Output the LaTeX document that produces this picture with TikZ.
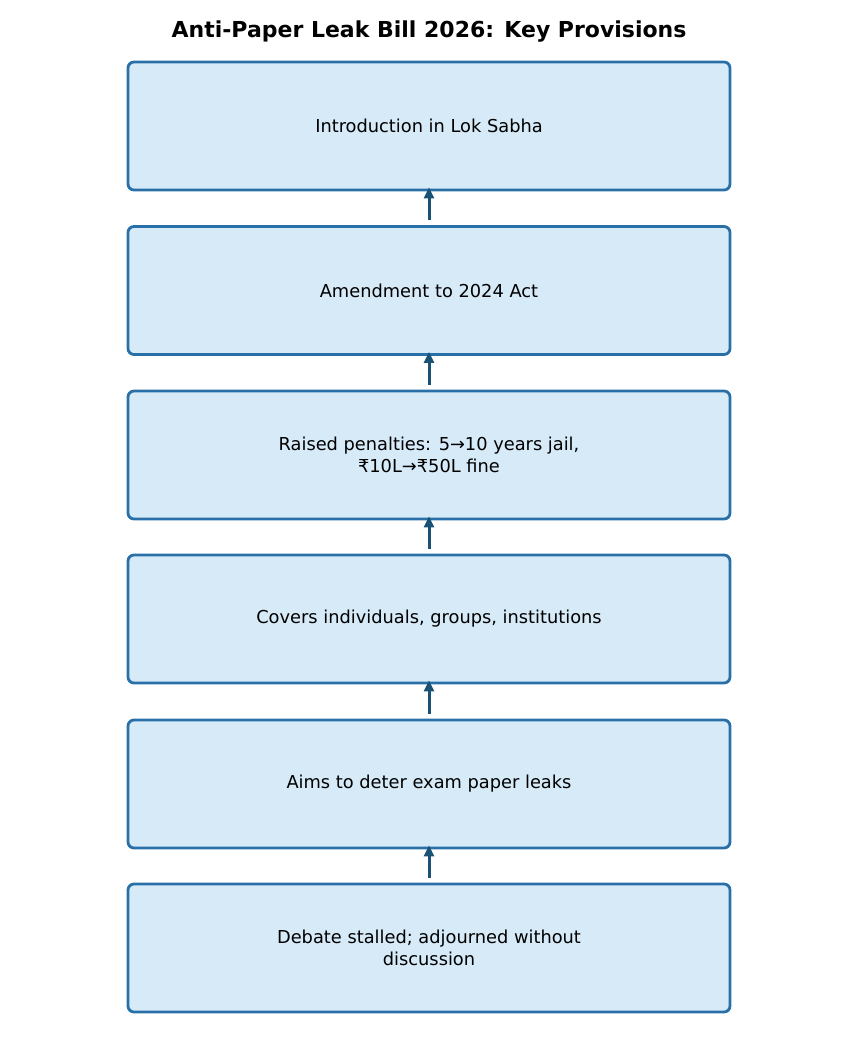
\documentclass[tikz,border=0pt]{standalone}
\usepackage{fontspec}
\setmainfont{DejaVu Sans}
\usetikzlibrary{arrows.meta}
\definecolor{boxfill}{RGB}{214,234,248}
\definecolor{boxdraw}{RGB}{42,112,168}
\definecolor{arrowc}{RGB}{26,82,118}
\tikzset{
  stepbox/.style={draw=boxdraw, fill=boxfill, line width=2.8pt, rounded corners=6pt,
    minimum width=602pt, minimum height=128pt, inner sep=0pt, align=center,
    font=\fontsize{17.8pt}{22pt}\selectfont, text=black},
  flowarrow/.style={draw=arrowc, line width=3pt, -{Triangle[length=11pt,width=10pt]}},
}
\begin{document}
\begin{tikzpicture}[x=1pt,y=-1pt]
\useasboundingbox (0,0) rectangle (858,1053);
\node[font=\bfseries\fontsize{22pt}{26pt}\selectfont] (title) at (429,32) {Anti-Paper Leak Bill 2026: Key Provisions};
\node[stepbox] (b1) at (429,126) {Introduction in Lok Sabha};
\node[stepbox] (b2) at (429,290.5) {Amendment to 2024 Act};
\node[stepbox] (b3) at (429,455) {Raised penalties: 5→10 years jail,\\₹10L→₹50L fine};
\node[stepbox] (b4) at (429,619) {Covers individuals, groups, institutions};
\node[stepbox] (b5) at (429,784) {Aims to deter exam paper leaks};
\node[stepbox] (b6) at (429,948) {Debate stalled; adjourned without\\discussion};
\foreach \lo/\hi in {b2/b1,b3/b2,b4/b3,b5/b4,b6/b5}
  \draw[flowarrow] ([yshift=5pt]\lo.north) -- ([yshift=4pt]\hi.south);
\end{tikzpicture}
\end{document}
